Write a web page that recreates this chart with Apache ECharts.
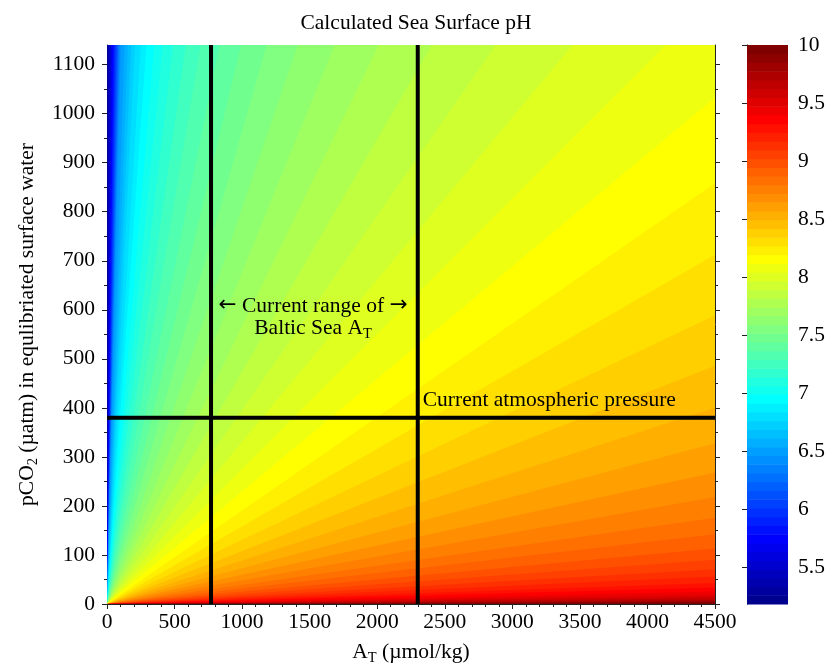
<!DOCTYPE html>
<html>
<head>
<meta charset="utf-8">
<script src="https://cdn.jsdelivr.net/npm/echarts@6/dist/echarts.min.js"></script>
<style>
  html, body { margin: 0; padding: 0; background: #ffffff; }
  #chart { width: 826px; height: 666px; }
</style>
</head>
<body>
<div id="chart"></div>
<script>
// ---- data -------------------------------------------------------------
// Total alkalinity axis (µmol/kg) and pCO2 axis (µatm)
const atRange = [0, 4500];
const co2Range = [0, 1140];
const xTickValues = [0, 500, 1000, 1500, 2000, 2500, 3000, 3500, 4000, 4500];
const yTickValues = [0, 100, 200, 300, 400, 500, 600, 700, 800, 900, 1000, 1100];
const yMinorTickValues = [50, 150, 250, 350, 450, 550, 650, 750, 850, 950, 1050];

// pH colour scale (jet, 64 steps)
const phRange = [5.18, 10];
const phTickValues = [5.5, 6, 6.5, 7, 7.5, 8, 8.5, 9, 9.5, 10];
const colorSteps = 64;

// Where each boundary between successive pH colour steps meets the top edge
// of the field (pCO2 = 1140 µatm): total alkalinity in µmol/kg
const topEdgeAT = [2.6, 8.7, 14.8, 21.0, 27.1, 33.3, 39.4, 45.6, 51.7, 57.8,
  64.0, 70.1, 76.3, 82.4, 88.6, 94.7, 103, 129, 154, 179,
  207, 250, 292, 349, 413, 490, 583, 693, 832, 992,
  1182, 1411, 1684, 2011, 2404, 2877, 3446, 4133];
// ... and where the remaining boundaries meet the right edge (AT = 4500): pCO2 in µatm
const rightEdgeCO2 = [1033, 858, 712, 589, 486, 400, 328, 268, 218, 176,
  142, 113, 90, 71, 56, 43, 33.5, 25.7, 19.6, 14.8,
  11.1, 8.3, 6.1, 4.5, 3.3];

// Reference lines
const balticRangeAT = [770, 2300];
const atmosphericCO2 = 380;

// ---- helpers ----------------------------------------------------------
const FONT = "'Liberation Serif', 'Times New Roman', serif";
const FS = 21.5;

function clamp01(v) { return Math.max(0, Math.min(1, v)); }
function jet(t) {
  const r = clamp01(1.5 - Math.abs(4 * t - 3));
  const g = clamp01(1.5 - Math.abs(4 * t - 2));
  const b = clamp01(1.5 - Math.abs(4 * t - 1));
  return 'rgb(' + Math.round(r * 255) + ',' + Math.round(g * 255) + ',' + Math.round(b * 255) + ')';
}
function plain(v) { return String(+v.toFixed(2)); }

// Start point of every colour band on the field border, clockwise from the top-left corner
const bandStarts = [[atRange[0], co2Range[1]]]
  .concat(topEdgeAT.map(a => [a, co2Range[1]]))
  .concat(rightEdgeCO2.map(p => [atRange[1], p]));

// Colour bar steps
const phStep = (phRange[1] - phRange[0]) / colorSteps;
const barSteps = [];
for (let k = 0; k < colorSteps; k++) {
  barSteps.push([0.5, phRange[0] + k * phStep, phRange[0] + (k + 1) * phStep]);
}

const subRich = {
  n: { fontSize: FS, fontFamily: FONT, color: '#000' },
  s: { fontSize: 14.5, fontFamily: FONT, color: '#000', padding: [13, 0, 0, 0] },
  a: { fontSize: FS, fontFamily: "'DejaVu Sans', sans-serif", color: '#000' }
};

const axisLineStyle = { show: true, lineStyle: { color: '#222', width: 1 } };
const labelStyle = { color: '#000', fontSize: FS, fontFamily: FONT, formatter: plain };

const chart = echarts.init(document.getElementById('chart'), null, { renderer: 'canvas' });

const option = {
  animation: false,
  backgroundColor: '#ffffff',
  title: {
    text: 'Calculated Sea Surface pH',
    left: 411,
    top: 7,
    textAlign: 'center',
    textStyle: { fontFamily: FONT, fontSize: FS, fontWeight: 'normal', color: '#000' }
  },
  grid: [
    { left: 107, top: 45, width: 608, height: 559, outerBoundsMode: 'none', containLabel: false },
    { left: 747, top: 45, width: 41, height: 559, outerBoundsMode: 'none', containLabel: false }
  ],
  xAxis: [
    {
      gridIndex: 0, type: 'value', position: 'bottom',
      min: atRange[0], max: atRange[1], interval: 500,
      axisLine: axisLineStyle,
      axisTick: { show: true, inside: false, length: 5, customValues: xTickValues, lineStyle: { color: '#222' } },
      minorTick: { show: true, splitNumber: 5, length: 3, lineStyle: { color: '#222' } },
      splitLine: { show: false },
      axisLabel: Object.assign({ margin: 7, customValues: xTickValues }, labelStyle),
      name: '{n|A}{s|T}{n| (µmol/kg)}',
      nameLocation: 'middle',
      nameGap: 34,
      nameTextStyle: { fontSize: FS, fontFamily: FONT, color: '#000', rich: subRich }
    },
    {
      gridIndex: 0, type: 'value', position: 'top',
      min: atRange[0], max: atRange[1], interval: 500,
      axisLine: axisLineStyle,
      axisTick: { show: true, inside: false, length: 5, lineStyle: { color: '#222' } },
      minorTick: { show: true, splitNumber: 5, length: 3, lineStyle: { color: '#222' } },
      splitLine: { show: false },
      axisLabel: { show: false }
    },
    {
      gridIndex: 1, type: 'value', min: 0, max: 1, show: false
    }
  ],
  yAxis: [
    {
      gridIndex: 0, type: 'value', position: 'left',
      min: co2Range[0], max: co2Range[1],
      axisLine: axisLineStyle,
      axisTick: { show: true, inside: false, length: 5, customValues: yTickValues, lineStyle: { color: '#222' } },
      splitLine: { show: false },
      axisLabel: Object.assign({ margin: 12, customValues: yTickValues }, labelStyle),
      name: '{n|pCO}{s|2}{n| (µatm) in equlibriated surface water}',
      nameLocation: 'middle',
      nameRotate: 90,
      nameGap: 56,
      nameTextStyle: { fontSize: FS, fontFamily: FONT, color: '#000', rich: subRich }
    },
    {
      gridIndex: 0, type: 'value', position: 'left',
      min: co2Range[0], max: co2Range[1],
      axisLine: { show: false },
      axisTick: { show: true, inside: false, length: 3, customValues: yMinorTickValues, lineStyle: { color: '#222' } },
      splitLine: { show: false },
      axisLabel: { show: false }
    },
    {
      gridIndex: 0, type: 'value', position: 'right',
      min: co2Range[0], max: co2Range[1],
      axisLine: axisLineStyle,
      axisTick: { show: true, inside: false, length: 5, customValues: yTickValues, lineStyle: { color: '#222' } },
      splitLine: { show: false },
      axisLabel: { show: false }
    },
    {
      gridIndex: 0, type: 'value', position: 'right',
      min: co2Range[0], max: co2Range[1],
      axisLine: { show: false },
      axisTick: { show: true, inside: false, length: 3, customValues: yMinorTickValues, lineStyle: { color: '#222' } },
      splitLine: { show: false },
      axisLabel: { show: false }
    },
    {
      gridIndex: 1, type: 'value', position: 'right',
      min: phRange[0], max: phRange[1],
      axisLine: { show: true, lineStyle: { color: '#444', width: 1 } },
      axisTick: { show: true, inside: true, length: 5, customValues: phTickValues, lineStyle: { color: '#222' } },
      splitLine: { show: false },
      axisLabel: Object.assign({ margin: 10, customValues: phTickValues }, labelStyle)
    },
    {
      gridIndex: 1, type: 'value', position: 'left',
      min: phRange[0], max: phRange[1],
      axisLine: { show: true, lineStyle: { color: '#444', width: 1 } },
      axisTick: { show: true, inside: true, length: 5, customValues: phTickValues, lineStyle: { color: '#222' } },
      splitLine: { show: false },
      axisLabel: { show: false }
    }
  ],
  series: [
    {
      // filled pH field: each band is a wedge from the origin, drawn in order
      type: 'custom',
      xAxisIndex: 0, yAxisIndex: 0,
      silent: true,
      clip: true,
      z: 1,
      data: bandStarts,
      renderItem: function (params, api) {
        const x = api.value(0), y = api.value(1);
        const pts = [[atRange[0], co2Range[0]], [x, y]];
        if (y >= co2Range[1] && x < atRange[1]) pts.push([atRange[1], co2Range[1]]);
        pts.push([atRange[1], co2Range[0]]);
        return {
          type: 'polygon',
          shape: { points: pts.map(p => api.coord(p)) },
          style: { fill: jet((params.dataIndex + 1) / colorSteps), stroke: null }
        };
      }
    },
    {
      type: 'line', xAxisIndex: 0, yAxisIndex: 0, z: 5, silent: true,
      symbol: 'none', lineStyle: { color: '#000', width: 4 },
      data: [[balticRangeAT[0], co2Range[0]], [balticRangeAT[0], co2Range[1]]]
    },
    {
      type: 'line', xAxisIndex: 0, yAxisIndex: 0, z: 5, silent: true,
      symbol: 'none', lineStyle: { color: '#000', width: 4 },
      data: [[balticRangeAT[1], co2Range[0]], [balticRangeAT[1], co2Range[1]]]
    },
    {
      type: 'line', xAxisIndex: 0, yAxisIndex: 0, z: 5, silent: true,
      symbol: 'none', lineStyle: { color: '#000', width: 4 },
      data: [[atRange[0], atmosphericCO2], [atRange[1], atmosphericCO2]]
    },
    {
      // annotations
      type: 'custom',
      xAxisIndex: 0, yAxisIndex: 0,
      silent: true, clip: false, z: 6,
      data: [[1525, 608], [1525, 563], [2337, 416]],
      renderItem: function (params, api) {
        const texts = ['{a|←}{n| Current range of }{a|→}', '{n|Baltic Sea A}{s|T}', 'Current atmospheric pressure'];
        const aligns = ['center', 'center', 'left'];
        const c = api.coord([api.value(0), api.value(1)]);
        return {
          type: 'text',
          x: c[0], y: c[1],
          style: {
            text: texts[params.dataIndex],
            fill: '#000',
            fontSize: FS,
            fontFamily: FONT,
            align: aligns[params.dataIndex],
            verticalAlign: 'middle',
            rich: subRich
          }
        };
      }
    },
    {
      // colour bar
      type: 'custom',
      xAxisIndex: 2, yAxisIndex: 4,
      silent: true, z: 1,
      data: barSteps,
      encode: { x: 0, y: [1, 2] },
      renderItem: function (params, api) {
        const p0 = api.coord([0, api.value(1)]);
        const p1 = api.coord([1, api.value(2)]);
        return {
          type: 'rect',
          shape: { x: p0[0], y: p1[1], width: p1[0] - p0[0], height: p0[1] - p1[1] + 0.6 },
          style: { fill: jet((params.dataIndex + 1) / colorSteps) }
        };
      }
    }
  ]
};

chart.setOption(option);
</script>
</body>
</html>
